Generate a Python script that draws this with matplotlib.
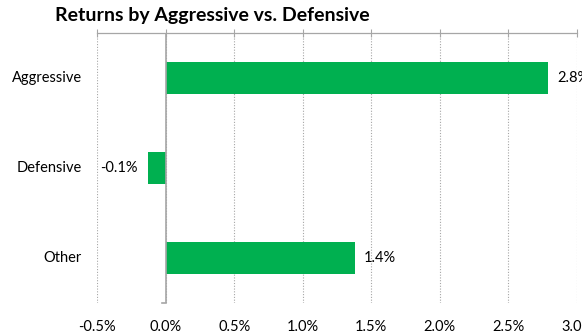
import matplotlib.pyplot as plt
import matplotlib.transforms as mtransforms

categories = ["Aggressive", "Defensive", "Other"]
returns = [2.79, -0.13, 1.38]
labels = ["2.8%", "-0.1%", "1.4%"]
xticks = [-0.5, 0.0, 0.5, 1.0, 1.5, 2.0, 2.5, 3.0]
xticklabels = ["-0.5%", "0.0%", "0.5%", "1.0%", "1.5%", "2.0%", "2.5%", "3.0%"]

plt.rcParams['font.family'] = ['Lato', 'DejaVu Sans']

fig = plt.figure(figsize=(5.82, 3.33), dpi=100)
ax = fig.add_axes([97 / 582, 1 - 303 / 333, 480 / 582, 270 / 333])

ypos = list(range(len(categories)))
ax.barh(ypos, returns, height=0.345, color="#00B050", zorder=3)
ax.set_ylim(2.5, -0.5)
ax.set_xlim(-0.5, 3.0)

# dotted vertical gridlines
ax.set_xticks(xticks)
ax.set_xticklabels(xticklabels, fontsize=10.5, color="#000000")
ax.grid(axis="x", linestyle=(0, (1, 1.5)), color="#A6A6A6", linewidth=0.8, zorder=0)
ax.tick_params(axis="x", which="both", bottom=False, top=True, direction="inout",
               length=6, color="#A6A6A6", pad=9)
ax.set_yticks([])

for side in ["left", "right", "bottom"]:
    ax.spines[side].set_visible(False)
ax.spines["top"].set_color("#A6A6A6")
ax.spines["top"].set_linewidth(0.9)

# category axis line at zero, with small tick at the bottom
ax.axvline(0, color="#A6A6A6", linewidth=1.2, zorder=4)
ax.plot([-0.025, 0], [2.5, 2.5], color="#A6A6A6", linewidth=1.2, clip_on=False, zorder=4)

# category labels
trans = mtransforms.blended_transform_factory(ax.transAxes, ax.transData)
for y, name in zip(ypos, categories):
    ax.text(-0.031, y, name, ha="right", va="center", fontsize=10.5, transform=trans)

# value labels
for y, v, lab in zip(ypos, returns, labels):
    if v >= 0:
        ax.annotate(lab, (v, y), xytext=(6.5, 0), textcoords="offset points",
                    ha="left", va="center", fontsize=10.5, annotation_clip=False)
    else:
        ax.annotate(lab, (v, y), xytext=(-7, 0), textcoords="offset points",
                    ha="right", va="center", fontsize=10.5)

fig.text(55 / 582, 1 - 16 / 333, "Returns by Aggressive vs. Defensive",
         fontsize=14, fontweight="bold", ha="left", va="center")

fig.savefig("out.png", dpi=100)
